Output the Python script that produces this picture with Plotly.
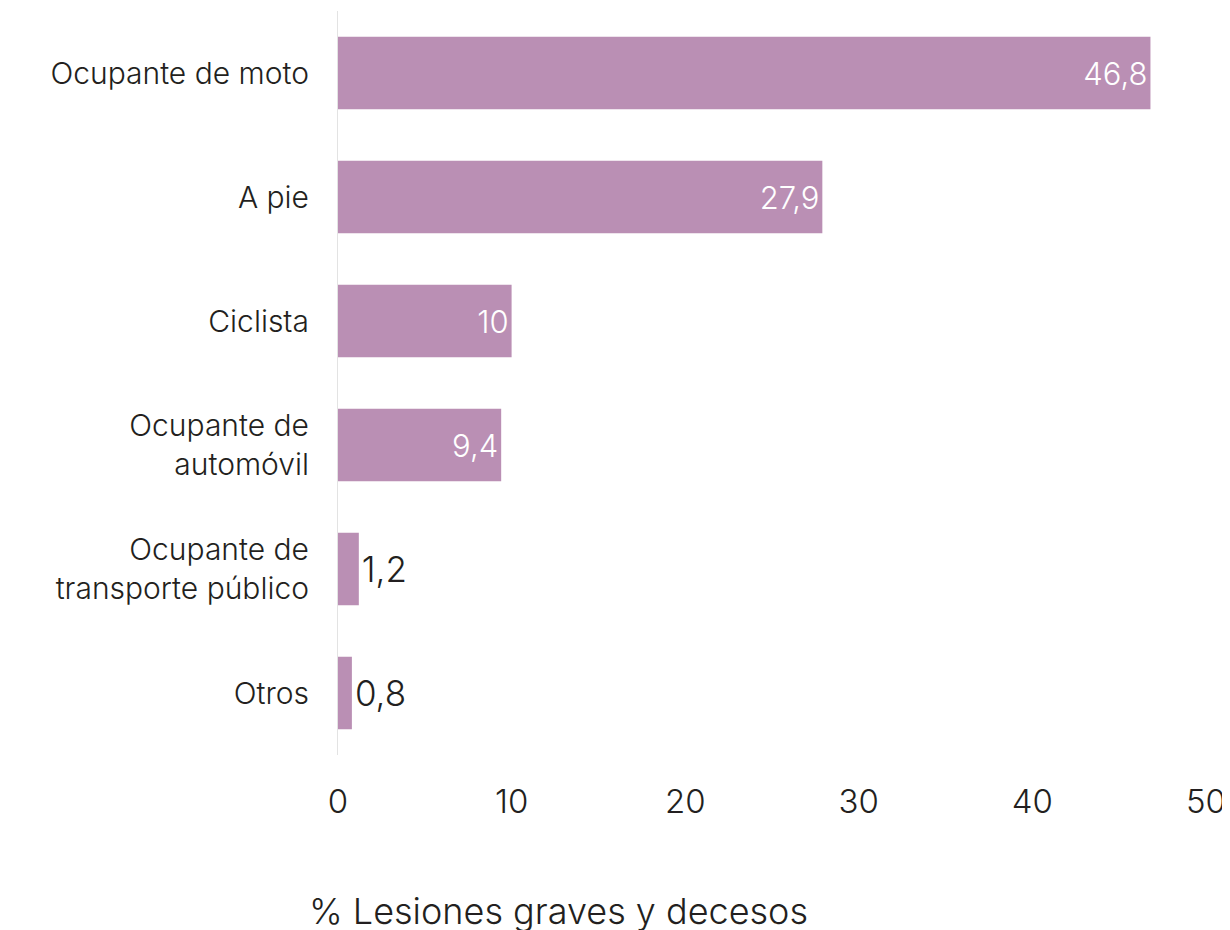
import plotly.graph_objects as go

categories = ["Ocupante de moto", "A pie", "Ciclista", "Ocupante de<br>automóvil",
              "Ocupante de<br>transporte público", "Otros"]
values = [46.8, 27.9, 10, 9.4, 1.2, 0.8]
positions = ["inside", "inside", "inside", "inside", "outside", "outside"]
labels = [("%g" % v).replace(".", ",") for v in values]
x_ticks = [0, 10, 20, 30, 40, 50]

BAR = "#BA8FB4"
TXT = "#231F20"
FONT = "Inter"
W = 300

# page body has an 8px margin: figure coords = page coords - 8
fig = go.Figure(go.Bar(
    x=values, y=categories, orientation="h",
    marker=dict(color=BAR, line=dict(width=0)),
    width=0.585,
    text=labels, textposition=positions,
    insidetextanchor="end",
    insidetextfont=dict(color="white", size=31, family=FONT, weight=W),
    outsidetextfont=dict(color=TXT, size=35, family=FONT, weight=W),
    cliponaxis=False,
    hoverinfo="skip",
))

fig.update_layout(
    width=1214, height=922,
    margin=dict(l=330, r=16, t=3, b=175, autoexpand=False),
    paper_bgcolor="white", plot_bgcolor="white",
    font=dict(family=FONT, color=TXT, weight=W),
    showlegend=False,
)
fig.update_xaxes(
    range=[0, 50], tickvals=x_ticks, ticktext=[str(t) for t in x_ticks],
    showgrid=False, zeroline=False, showline=False,
    ticks="outside", ticklen=17, tickcolor="rgba(0,0,0,0)",
    tickfont=dict(size=33, family=FONT, color=TXT, weight=W),
    ticklabeloverflow="allow",
    automargin=False,
)
fig.update_yaxes(
    categoryorder="array", categoryarray=categories, autorange="reversed",
    showgrid=False, zeroline=False,
    showline=True, linecolor="#E3E3E3", linewidth=1,
    ticks="outside", ticklen=22, tickcolor="rgba(0,0,0,0)",
    tickfont=dict(size=30, family=FONT, color=TXT, weight=W),
    automargin=False,
)
fig.add_annotation(
    text="% Lesiones graves y decesos", xref="paper", yref="paper",
    x=(558 - 338) / (1206 - 338), y=-(911 - 755) / (755 - 11),
    xanchor="center", yanchor="middle", showarrow=False,
    font=dict(size=36, family=FONT, color=TXT, weight=W),
)

fig.write_html("out.html")
